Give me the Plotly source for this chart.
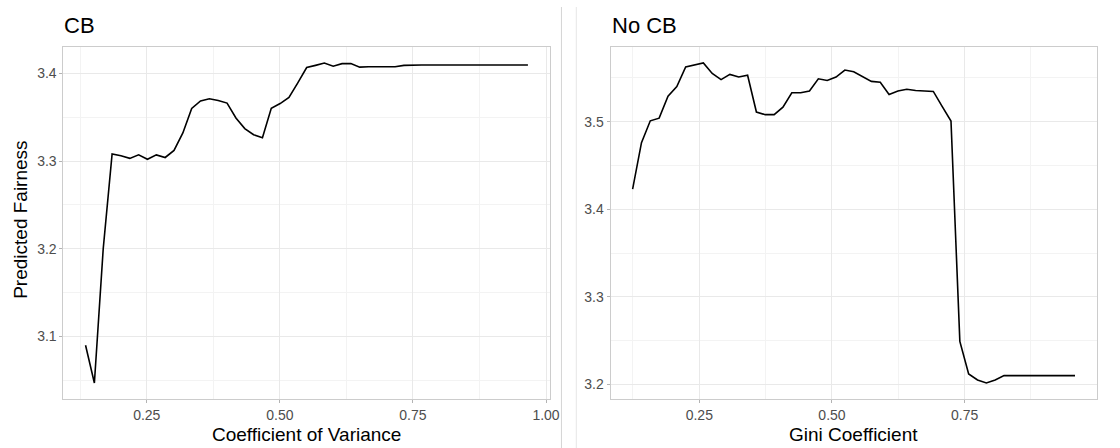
import plotly.graph_objects as go

# ---- data ----
cb_x = [0.135, 0.1516, 0.1682, 0.1849, 0.2015, 0.2181, 0.2347, 0.2513, 0.2680, 0.2846,
        0.3012, 0.3178, 0.3344, 0.3510, 0.3676, 0.3842, 0.4008, 0.4175, 0.4341, 0.4507,
        0.4673, 0.4839, 0.5005, 0.5171, 0.5337, 0.5504, 0.5670, 0.5836, 0.6002, 0.6168,
        0.6334, 0.6500, 0.6667, 0.6833, 0.6999, 0.7165, 0.7331, 0.7497, 0.7663, 0.7830,
        0.7996, 0.8162, 0.8328, 0.8494, 0.8660, 0.8826, 0.8993, 0.9159, 0.9325, 0.9491,
        0.966]
cb_y = [3.090, 3.047, 3.200, 3.308, 3.306, 3.303, 3.307, 3.302, 3.307, 3.304,
        3.312, 3.332, 3.360, 3.3685, 3.371, 3.369, 3.366, 3.349, 3.337, 3.330,
        3.3265, 3.360, 3.3655, 3.3724, 3.389, 3.4065, 3.409, 3.4117, 3.408, 3.411,
        3.411, 3.407, 3.4075, 3.4075, 3.4075, 3.4075, 3.409, 3.4095, 3.4095, 3.4095,
        3.4095, 3.4095, 3.4095, 3.4095, 3.4095, 3.4095, 3.4095, 3.4095, 3.4095, 3.4095,
        3.4095]

nocb_x = [0.1243, 0.1410, 0.1576, 0.1743, 0.1910, 0.2076, 0.2243, 0.2410, 0.2576, 0.2743,
          0.2910, 0.3076, 0.3243, 0.3410, 0.3576, 0.3743, 0.3910, 0.4076, 0.4243, 0.4410,
          0.4576, 0.4743, 0.4910, 0.5076, 0.5243, 0.5410, 0.5576, 0.5743, 0.5910, 0.6076,
          0.6243, 0.6410, 0.6576, 0.6743, 0.6910, 0.7076, 0.7243, 0.7410, 0.7576, 0.7743,
          0.7910, 0.8076, 0.8243, 0.8410, 0.8576, 0.8743, 0.8910, 0.9076, 0.9243, 0.9410,
          0.958]
nocb_y = [3.423, 3.476, 3.501, 3.504, 3.529, 3.540, 3.5626, 3.565, 3.567, 3.555,
          3.548, 3.554, 3.551, 3.553, 3.511, 3.508, 3.508, 3.5166, 3.533, 3.533,
          3.535, 3.549, 3.547, 3.551, 3.559, 3.557, 3.5516, 3.546, 3.545, 3.531,
          3.535, 3.537, 3.5356, 3.5353, 3.5345, 3.5174, 3.5007, 3.249, 3.212, 3.205,
          3.2016, 3.205, 3.210, 3.210, 3.210, 3.210, 3.210, 3.210, 3.210, 3.210,
          3.210]

x_ticks = [0.25, 0.50, 0.75, 1.00]
x_tick_labels = ["0.25", "0.50", "0.75", "1.00"]
cb_y_ticks = [3.1, 3.2, 3.3, 3.4]
nocb_y_ticks = [3.2, 3.3, 3.4, 3.5]
panel_titles = ["CB", "No CB"]
x_titles = ["Coefficient of Variance", "Gini Coefficient"]
y_title = "Predicted Fairness"


def expand(vals, frac=0.05):
    lo, hi = min(vals), max(vals)
    pad = (hi - lo) * frac
    return [lo - pad, hi + pad]


W, H = 1120, 448
FONT = "Liberation Sans, Arial, Helvetica, sans-serif"
TICK_C = "#4d4d4d"
BORDER = "#cccccc"
GRID = "#e9e9e9"
MINOR = "#f3f3f3"

fig = go.Figure()
fig.add_trace(go.Scatter(x=cb_x, y=cb_y, mode="lines",
                         line=dict(color="black", width=1.6), xaxis="x", yaxis="y",
                         showlegend=False))
fig.add_trace(go.Scatter(x=nocb_x, y=nocb_y, mode="lines",
                         line=dict(color="black", width=1.6), xaxis="x2", yaxis="y2",
                         showlegend=False))

top_px, bot_px = 47, 399
ydom = [1 - bot_px / H, 1 - top_px / H]
left_dom = [64 / W, 555 / W]
right_dom = [616 / W, 1107 / W]


def xaxis(dom, rng, anchor):
    return dict(domain=dom, range=rng, anchor=anchor,
                tickvals=x_ticks, ticktext=x_tick_labels,
                showgrid=True, gridcolor=GRID, gridwidth=1,
                minor=dict(dtick=0.125, tick0=0.125, showgrid=True, gridcolor=MINOR,
                           gridwidth=1, ticks=""),
                zeroline=False, showline=True, mirror=True, linecolor=BORDER, linewidth=1,
                ticks="outside", ticklen=3, tickcolor="#b3b3b3", tickwidth=1,
                tickfont=dict(family=FONT, size=14, color=TICK_C))


def yaxis(rng, ticks, anchor):
    return dict(domain=ydom, range=rng, anchor=anchor,
                tickvals=ticks, ticktext=["%.1f" % t for t in ticks],
                showgrid=True, gridcolor=GRID, gridwidth=1,
                minor=dict(dtick=0.05, tick0=0.05, showgrid=True, gridcolor=MINOR,
                           gridwidth=1, ticks=""),
                zeroline=False, showline=True, mirror=True, linecolor=BORDER, linewidth=1,
                ticks="outside", ticklen=3, tickcolor="#b3b3b3", tickwidth=1,
                tickfont=dict(family=FONT, size=14, color=TICK_C))


fig.update_layout(
    width=W, height=H,
    margin=dict(l=0, r=0, t=0, b=0),
    paper_bgcolor="white", plot_bgcolor="white",
    font=dict(family=FONT),
    xaxis=xaxis(left_dom, expand(cb_x), "y"),
    yaxis=yaxis(expand(cb_y), cb_y_ticks, "x"),
    xaxis2=xaxis(right_dom, expand(nocb_x), "y2"),
    yaxis2=yaxis(expand(nocb_y), nocb_y_ticks, "x2"),
)

annotations = []
for dom, t, xt in [(left_dom, panel_titles[0], x_titles[0]),
                   (right_dom, panel_titles[1], x_titles[1])]:
    annotations.append(dict(text=t, x=dom[0] - 1 / W, y=1 - 25.5 / H, xref="paper", yref="paper",
                            xanchor="left", yanchor="middle", showarrow=False,
                            font=dict(family=FONT, size=22, color="black")))
    annotations.append(dict(text=xt, x=(dom[0] + dom[1]) / 2, y=1 - 434 / H,
                            xref="paper", yref="paper", xanchor="center", yanchor="middle",
                            showarrow=False, font=dict(family=FONT, size=19, color="black")))
annotations.append(dict(text=y_title, x=20 / W, y=1 - 220 / H, xref="paper", yref="paper",
                        xanchor="center", yanchor="middle", textangle=-90, showarrow=False,
                        font=dict(family=FONT, size=19, color="black")))
fig.update_layout(annotations=annotations)

fig.update_layout(shapes=[
    dict(type="line", xref="paper", yref="paper", x0=566.5 / W, x1=566.5 / W,
         y0=0, y1=1 - 7 / H, line=dict(color="#d4d4d4", width=1)),
    dict(type="line", xref="paper", yref="paper", x0=581.5 / W, x1=581.5 / W,
         y0=0, y1=1 - 7 / H, line=dict(color="#e6e6e6", width=1)),
])

fig.write_html("out.html")
